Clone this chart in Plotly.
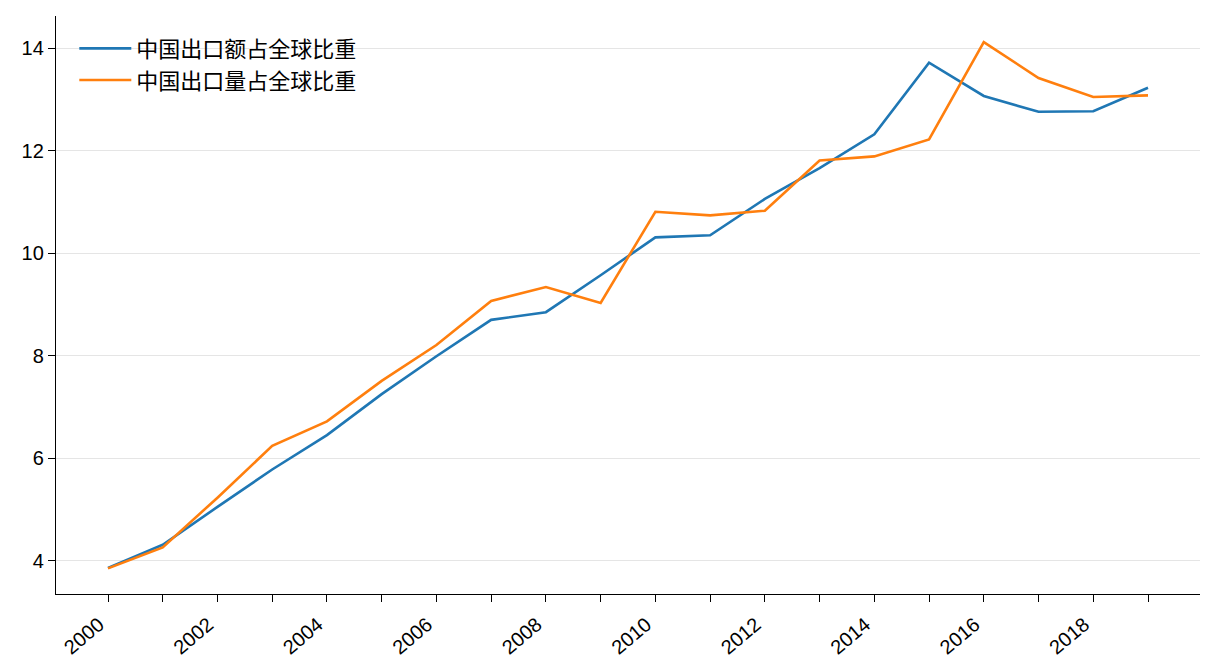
import plotly.graph_objects as go

# 中国出口占全球比重 (%), 2000-2019
years = list(range(2000, 2020))
value_share = [3.86, 4.31, 5.05, 5.78, 6.45, 7.25, 7.99, 8.70, 8.85, 9.57,
               10.31, 10.35, 11.06, 11.66, 12.32, 13.72, 13.07, 12.76, 12.77, 13.23]
volume_share = [3.85, 4.26, 5.23, 6.24, 6.72, 7.51, 8.21, 9.07, 9.34, 9.03,
                10.81, 10.74, 10.83, 11.81, 11.89, 12.22, 14.12, 13.42, 13.05, 13.08]
tick_labels = [str(y) if y % 2 == 0 else '' for y in years]

font_family = 'Liberation Sans, Arial, Noto Sans CJK SC, sans-serif'

fig = go.Figure()
fig.add_trace(go.Scatter(x=years, y=value_share, mode='lines', name='中国出口额占全球比重',
                         line=dict(color='#1f77b4', width=2.6)))
fig.add_trace(go.Scatter(x=years, y=volume_share, mode='lines', name='中国出口量占全球比重',
                         line=dict(color='#ff7f0e', width=2.6)))

fig.update_layout(
    width=1216, height=672,
    # the page puts the plot ~8px in from the corner, so margins are trimmed by that
    margin=dict(l=48, r=24, t=8, b=86),
    plot_bgcolor='white', paper_bgcolor='white',
    font=dict(family=font_family, size=20, color='black'),
    showlegend=True,
    legend=dict(x=0.016, y=0.98, xanchor='left', yanchor='top', itemwidth=52,
                bgcolor='rgba(0,0,0,0)', font=dict(size=22)),
)
fig.update_xaxes(
    range=[1999.05, 2019.95], tickvals=years, ticktext=tick_labels,
    tickangle=-40, ticks='outside', ticklen=7, tickwidth=1.3, tickcolor='black',
    ticklabelshift=-9, ticklabelstandoff=3,
    showline=True, linecolor='black', linewidth=1.3, showgrid=False, zeroline=False,
    tickfont=dict(size=20), automargin=False,
)
fig.update_yaxes(
    range=[3.35, 14.63], tickvals=[4, 6, 8, 10, 12, 14],
    ticks='outside', ticklen=7, tickwidth=1.3, tickcolor='black',
    showline=True, linecolor='black', linewidth=1.3,
    showgrid=True, gridcolor='#e5e5e5', gridwidth=1.2, zeroline=False,
    tickfont=dict(size=20), automargin=False,
)

fig.write_html('out.html')
